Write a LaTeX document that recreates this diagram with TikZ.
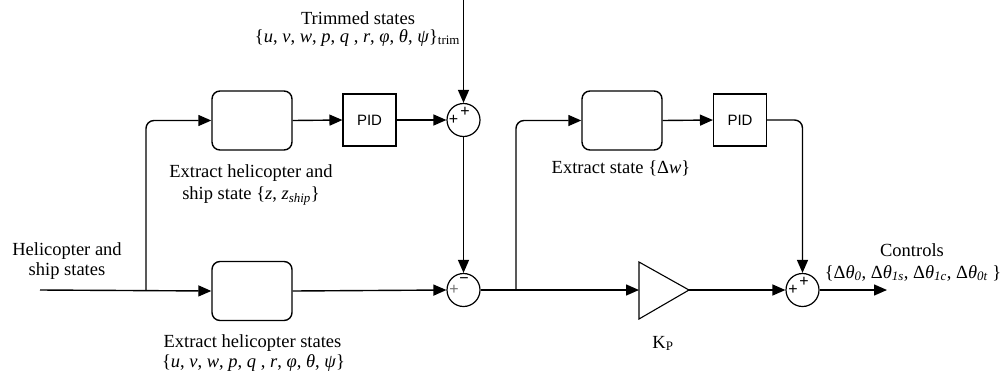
\documentclass[tikz,border=0pt]{standalone}
\usepackage{fontspec}
\setmainfont{Liberation Serif}
\newfontfamily\pidfont{Liberation Sans}
\usetikzlibrary{arrows.meta}
\begin{document}
\begin{tikzpicture}[x=1pt,y=-1pt,line width=1.4pt,
  every node/.style={font=\fontsize{18.5}{20}\selectfont},
  lbl/.style={anchor=base,inner sep=0pt},
  rbox/.style={draw,rounded corners=8pt,minimum width=80pt,minimum height=59pt,inner sep=0pt},
  pidbox/.style={draw,line width=1.1pt,minimum width=53pt,minimum height=52pt,inner sep=0pt,font=\pidfont\fontsize{15}{16}\selectfont},
  sumnode/.style={draw,circle,line width=1.2pt,minimum size=33pt,inner sep=0pt},
  sgn/.style={inner sep=0pt,font=\pidfont\fontsize{16}{16}\selectfont},
  arr/.style={-{Triangle[length=13pt,width=11pt]}},
]
\useasboundingbox (0,0) rectangle (1000,378);
% blocks
\node[rbox] (b1) at (252,120.5) {};
\node[rbox] (b2) at (252,291) {};
\node[rbox] (b3) at (622,120.5) {};
\node[pidbox] (p1) at (369.5,120) {PID};
\node[pidbox] (p2) at (740,120) {PID};
\node[sumnode] (s1) at (463.5,120) {};
\node[sumnode] (s2) at (463.5,290) {};
\node[sumnode] (s3) at (802.5,290) {};
% signs
\node[sgn] (s1l) at (453.5,120) {+};
\node[sgn] (s1t) at (465,111.5) {+};
\node[sgn,text=black!55] (s2l) at (454,290) {+};
\node[sgn] (s2t) at (464,281) {\textminus};
\node[sgn] (s3l) at (793,290) {+};
\node[sgn] (s3t) at (804,282) {+};
% gain
\coordinate (kpin) at (639,290);
\coordinate (kpout) at (689,290);
\draw[line width=1.1pt] (639,262) -- (kpout) -- (639,319) -- cycle;
% coordinates
\coordinate (in) at (40,290);
\coordinate (br1) at (146,290);
\coordinate (br2) at (516,290);
\coordinate (top) at (463.5,0);
\coordinate (out) at (887,290);
% connectors
\draw[arr] (in) -- (b2.west);
\draw[arr,rounded corners=8pt] (br1) |- (b1.west);
\draw[arr] (b1.east) -- (p1.west);
\draw[arr] (p1.east) -- (s1.west);
\draw[arr] (top) -- (s1.north);
\draw[arr] (s1.south) -- (s2.north);
\draw[arr] (b2.east) -- (s2.west);
\draw[arr] (s2.east) -- (kpin);
\draw[arr,rounded corners=8pt] (br2) |- (b3.west);
\draw[arr] (b3.east) -- (p2.west);
\draw[arr,rounded corners=8pt] (p2.east) -| (s3.north);
\draw[arr] (kpout) -- (s3.west);
\draw[arr] (s3.east) -- (out);
% labels
\node[lbl] (t1) at (358,24) {Trimmed states};
\node[lbl] (t2) at (357.5,42) {\{\textit{u}, \textit{v}, \textit{w}, \textit{p}, \textit{q} , \textit{r}, \textit{φ}, \textit{θ}, \textit{ψ}\}\textsubscript{trim}};
\node[lbl] (e1) at (251,177.5) {Extract helicopter and};
\node[lbl] (e2) at (251,199) {ship state \{\textit{z}, \textit{z}\textsubscript{\itshape ship}\}};
\node[lbl] (h1) at (67,255.5) {Helicopter and};
\node[lbl] (h2) at (67,275.5) {ship states};
\node[lbl] (x1) at (252.5,347.5) {Extract helicopter states};
\node[lbl] (x2) at (253.5,367.5) {\{\textit{u}, \textit{v}, \textit{w}, \textit{p}, \textit{q} , \textit{r}, \textit{φ}, \textit{θ}, \textit{ψ}\}};
\node[lbl] (d1) at (621,173.5) {Extract state \{Δ\textit{w}\}};
\node[lbl] (kp) at (663,348) {K\textsubscript{P}};
\node[lbl] (c1) at (912,256) {Controls};
\node[lbl] (c2) at (913,278) {\{Δ\textit{θ}\textsubscript{\itshape 0}, Δ\textit{θ}\textsubscript{\itshape 1s}, Δ\textit{θ}\textsubscript{\itshape 1c}, Δ\textit{θ}\textsubscript{\itshape 0t} \}};
\end{tikzpicture}
\end{document}
